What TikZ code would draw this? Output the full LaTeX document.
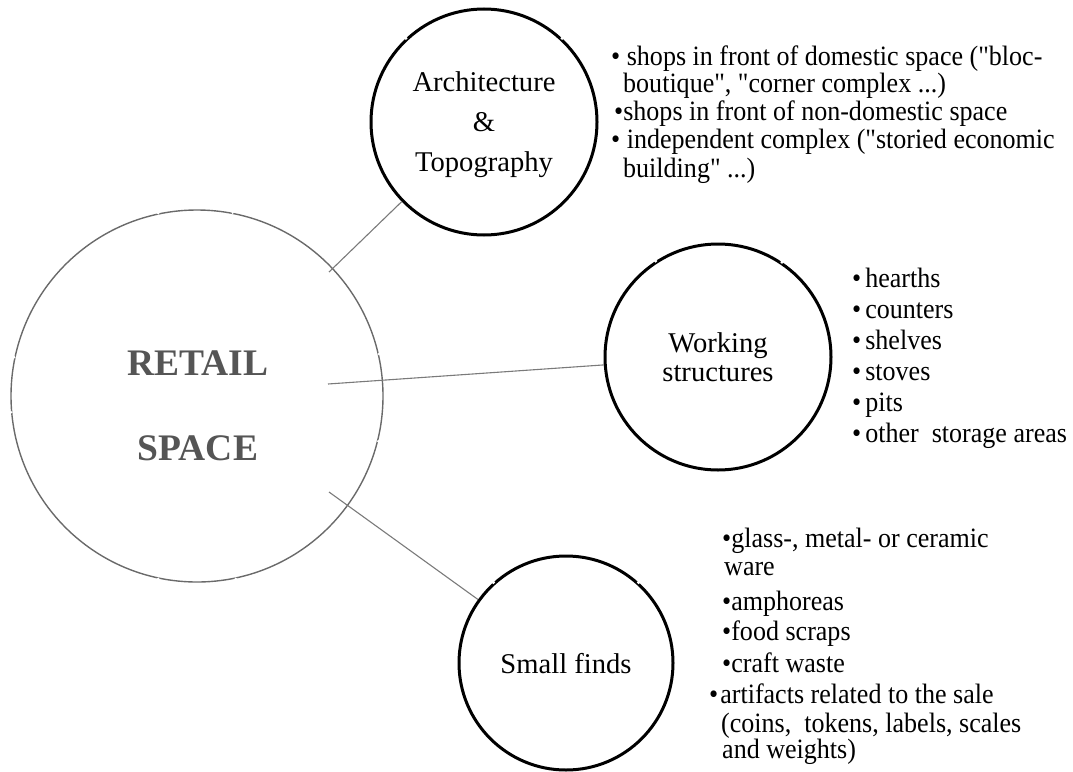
\documentclass[tikz,border=0pt]{standalone}
\usepackage{fontspec}
\setmainfont{Liberation Serif}[Ligatures=TeXOff]
\newfontfamily\listfont{Liberation Serif}[Ligatures=TeXOff, FakeStretch=0.93]
\definecolor{bigline}{HTML}{6A6A6A}
\definecolor{connline}{HTML}{7A7A7A}
\definecolor{retailtext}{HTML}{555555}
\begin{document}
\begin{tikzpicture}[x=1pt,y=-1pt,
  bigc/.style={circle, draw=bigline, line width=1.4pt, minimum size=372pt, inner sep=0pt},
  topic/.style={circle, draw=black, line width=3pt, inner sep=0pt, align=center,
    font=\fontsize{28.6}{40}\selectfont, text depth=0pt},
  conn/.style={draw=connline, line width=1.1pt},
  retailfont/.style={anchor=base, inner sep=0pt, text=retailtext,
    font=\fontsize{37.5}{40}\selectfont\bfseries},
  listitem/.style={anchor=base west, inner sep=0pt, text=black,
    font=\listfont\fontsize{28}{28}\selectfont},
  gapbig/.style={fill=white, draw=none},
]
\useasboundingbox (0,0) rectangle (1073,771);

% main circle
\node[bigc] (retail) at (197,396) {};
\node[retailfont] (rt1) at (198,375) {RETAIL};
\node[retailfont] (rt2) at (198,460) {SPACE};

% topic circles
\node[topic, minimum size=226pt] (arch) at (484,122) {Architecture\\\&\\Topography};
\node[topic, minimum size=226pt, font=\fontsize{28.6}{29}\selectfont] (work) at (718,357) {Working\\structures};
\node[topic, minimum size=214pt] (small) at (566,663) {Small finds};

% small breaks in the circle outlines
\foreach \a in {102,79,168,185,258,282,13,346} {\fill[gapbig] (retail.\a) circle (1.3pt);}
\foreach \a in {133,47} {\fill[gapbig] (arch.\a) circle (1.8pt);}
\foreach \a in {123,56} {\fill[gapbig] (work.\a) circle (1.8pt);}
\foreach \a in {132,48} {\fill[gapbig] (small.\a) circle (1.8pt);}

% connector start points
\coordinate (s1) at (329,272);
\coordinate (s2) at (328,384);
\coordinate (s3) at (329,492);
\draw[conn] (s1) -- (arch);
\draw[conn] (s2) -- (work);
\draw[conn] (s3) -- (small);

% architecture list
\node[listitem] (a1) at (611,65) {• shops in front of domestic space ("bloc-};
\node[listitem] (a2) at (623,92) {boutique", "corner complex ...)};
\node[listitem] (a3) at (614,120) {•shops in front of non-domestic space};
\node[listitem] (a4) at (611,148) {• independent complex ("storied economic};
\node[listitem] (a5) at (623,177) {building" ...)};

% working list
\node[listitem] (w1) at (852,287) {•\hspace{4pt}hearths};
\node[listitem] (w2) at (852,318) {•\hspace{4pt}counters};
\node[listitem] (w3) at (852,349) {•\hspace{4pt}shelves};
\node[listitem] (w4) at (852,380) {•\hspace{4pt}stoves};
\node[listitem] (w5) at (852,411) {•\hspace{4pt}pits};
\node[listitem] (w6) at (852,442) {•\hspace{4pt}other\ \ storage areas};

% small finds list
\node[listitem] (f1) at (722,547) {•glass-, metal- or ceramic};
\node[listitem] (f2) at (724,575) {ware};
\node[listitem] (f3) at (722,610) {•amphoreas};
\node[listitem] (f4) at (722,640) {•food scraps};
\node[listitem] (f5) at (722,672) {•craft waste};
\node[listitem] (f6) at (709,703) {•\hspace{2pt}artifacts related to the sale};
\node[listitem] (f7) at (721,732) {(coins,\ \ tokens, labels, scales};
\node[listitem] (f8) at (722,758) {and weights)};
\end{tikzpicture}
\end{document}
